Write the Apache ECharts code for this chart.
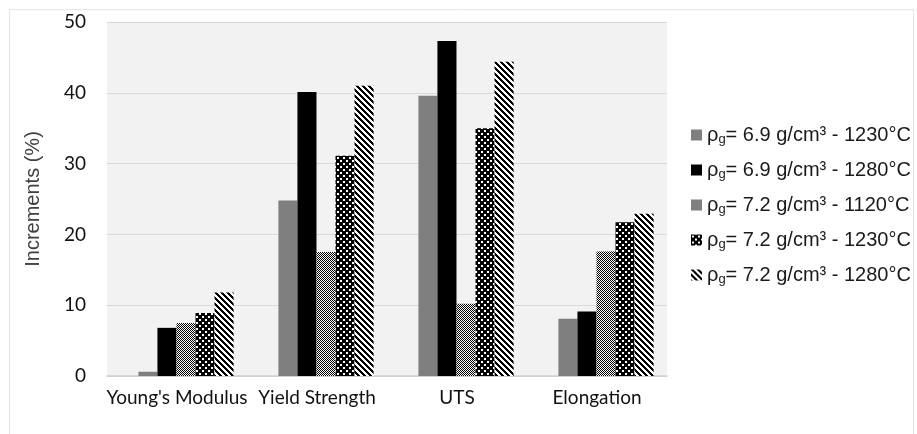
<!DOCTYPE html>
<html>
<head>
<meta charset="utf-8">
<script src="https://cdn.jsdelivr.net/npm/echarts@6/dist/echarts.min.js"></script>
<style>html,body{margin:0;padding:0;background:#fff}#c{width:917px;height:434px}</style>
</head>
<body>
<div id="c"></div>
<script>
var categories = ["Young's Modulus", "Yield Strength", "UTS", "Elongation"];
var seriesNames = [
  "ρg= 6.9 g/cm³ - 1230°C",
  "ρg= 6.9 g/cm³ - 1280°C",
  "ρg= 7.2 g/cm³ - 1120°C",
  "ρg= 7.2 g/cm³ - 1230°C",
  "ρg= 7.2 g/cm³ - 1280°C"
];
var s69_1230 = [0.6, 24.8, 39.6, 8.1];
var s69_1280 = [6.8, 40.1, 47.3, 9.1];
var s72_1120 = [7.5, 17.5, 10.2, 17.6];
var s72_1230 = [8.9, 31.1, 35.0, 21.7];
var s72_1280 = [11.8, 41.0, 44.4, 22.9];
var yTicks = [0, 10, 20, 30, 40, 50];

function makePattern(w, h, fn) {
  var c = document.createElement('canvas');
  c.width = w; c.height = h;
  var ctx = c.getContext('2d');
  var img = ctx.createImageData(w, h);
  for (var y = 0; y < h; y++) for (var x = 0; x < w; x++) {
    var v = fn(x, y) ? 0 : 255;
    var i = (y * w + x) * 4;
    img.data[i] = v; img.data[i+1] = v; img.data[i+2] = v; img.data[i+3] = 255;
  }
  ctx.putImageData(img, 0, 0);
  return { image: c, repeat: 'repeat' };
}
var checker = makePattern(2, 2, function (x, y) { return (x + y) % 2 === 0; });
var dots = makePattern(6, 6, function (x, y) {
  var a = (x >= 1 && x <= 2 && y >= 1 && y <= 2);
  var b = (x >= 4 && x <= 5 && y >= 4 && y <= 5);
  return !(a || b);
});
var stripes = makePattern(6, 6, function (x, y) { return ((x - y + 12) % 6) < 3; });

var colors = ['#7f7f7f', '#000000', checker, dots, stripes];
var values = [s69_1230, s69_1280, s72_1120, s72_1230, s72_1280];

var chart = echarts.init(document.getElementById('c'), null, { renderer: 'canvas' });
var series = seriesNames.map(function (n, i) {
  return {
    name: n, type: 'bar', xAxisIndex: 1, yAxisIndex: 1,
    barGap: '0%', barCategoryGap: '32%',
    itemStyle: { color: colors[i] },
    data: values[i]
  };
});

chart.setOption({
  backgroundColor: '#ffffff',
  animation: false,
  graphic: [{
    type: 'rect', left: 7, top: 7, silent: true,
    shape: { width: 904, height: 425 },
    style: { fill: 'none', stroke: '#e6e6e6', lineWidth: 1 }
  }],
  grid: [
    { left: 107, top: 22, width: 560, height: 354, show: true, backgroundColor: '#f2f2f2', borderWidth: 0 },
    { left: 116, top: 22, width: 560, height: 354 }
  ],
  xAxis: [
    { type: 'category', gridIndex: 0, data: categories,
      axisLine: { lineStyle: { color: '#d0d0d0', width: 1.5 } },
      axisTick: { show: false },
      axisLabel: { interval: 0, fontFamily: 'Lato', fontSize: 19, color: '#111111', margin: 12 } },
    { type: 'category', gridIndex: 1, data: categories, show: false }
  ],
  yAxis: [
    { type: 'value', gridIndex: 0, min: yTicks[0], max: yTicks[yTicks.length - 1], interval: 10,
      name: 'Increments (%)', nameLocation: 'middle', nameRotate: 90, nameGap: 64,
      nameTextStyle: { fontFamily: 'Liberation Sans', fontSize: 20, color: '#404040' },
      axisLine: { show: false }, axisTick: { show: false },
      splitLine: { lineStyle: { color: '#d9d9d9', width: 1 } },
      axisLabel: { fontFamily: 'Lato', fontSize: 19, color: '#111111', margin: 21 } },
    { type: 'value', gridIndex: 1, min: 0, max: 50, show: false, splitLine: { show: false } }
  ],
  legend: {
    orient: 'vertical', left: 686, top: 119,
    itemWidth: 11, itemHeight: 11, itemGap: 13,
    icon: 'rect',
    data: seriesNames,
    formatter: function (name) {
      var rest = name.replace(/^ρg/, '');
      return '{r|ρ}{s|g}{r|' + rest + '}';
    },
    textStyle: {
      color: '#1a1a1a',
      rich: {
        r: { fontFamily: 'Liberation Sans', fontSize: 20, lineHeight: 21, color: '#1a1a1a' },
        s: { fontFamily: 'Liberation Sans', fontSize: 13, lineHeight: 21, color: '#1a1a1a', padding: [9, 0, 0, 0] }
      }
    }
  },
  series: series
});
</script>
</body>
</html>
